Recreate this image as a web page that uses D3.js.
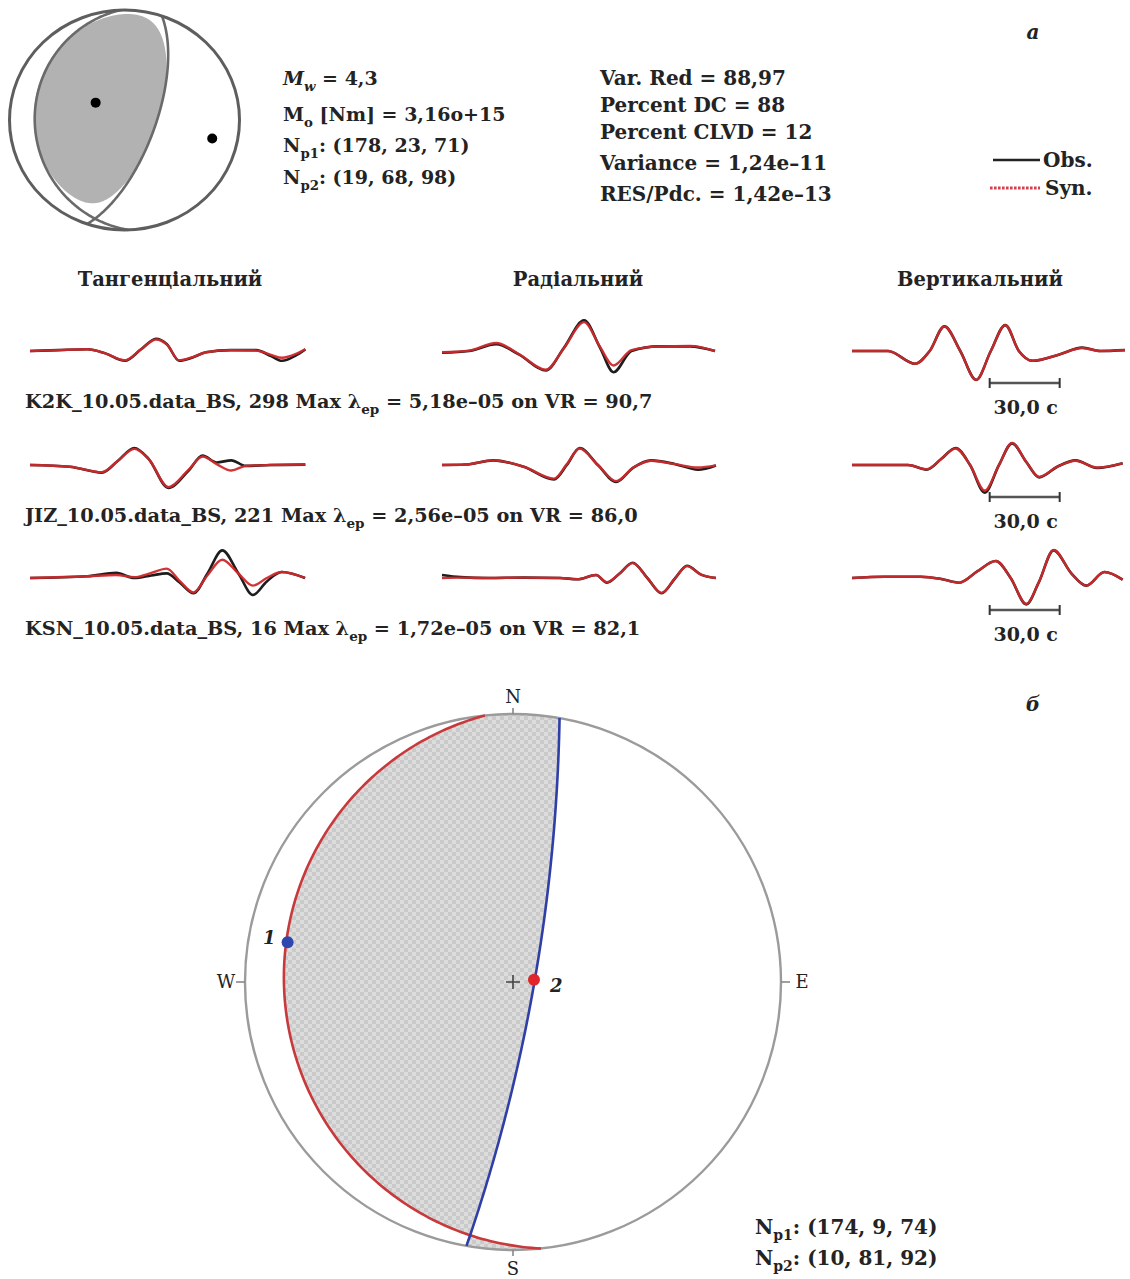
<!DOCTYPE html>
<html>
<head>
<meta charset="utf-8">
<script src="https://cdn.jsdelivr.net/npm/d3@7"></script>
<style>
  body { margin: 0; background: #fff; }
  svg text { font-family: "DejaVu Serif", serif; fill: #232323; }
</style>
</head>
<body>
<svg id="fig" width="1130" height="1279"></svg>
<script>
// ---------------- data ----------------
// nodal planes: [strike, dip, rake]
const planesA = [[178, 23, 71], [19, 68, 98]];
const planesB = [[174, 9, 74], [10, 81, 92]];
const percentDC = 88;
const percentCLVD = 12;
const magnitude = "4,3";
const momentText = "3,16o+15";
const varianceReduction = "88,97";
const varianceText = "1,24e–11";
const resPdcText = "1,42e–13";

const components = ["Тангенціальний", "Радіальний", "Вертикальний"];
const stations = ["K2K_10.05.data_BS", "JIZ_10.05.data_BS", "KSN_10.05.data_BS"];
const stationAzimuth = [298, 221, 16];
const stationMaxAmp = ["5,18e–05", "2,56e–05", "1,72e–05"];
const stationVR = ["90,7", "86,0", "82,1"];
const scaleBarSeconds = 30;
const scaleBarLabel = "30,0 c";

// waveform key points: [time s, observed, synthetic]
const k2kT = [[0,0,0],[12,0.1,0.1],[24.6,0.2,0.2],[32,-0.25,-0.25],[40.7,-1.15,-1.1],[47.6,0.2,0.2],[54,1.45,1.35],[58.7,0.8,0.75],[63.9,-1.15,-1.1],[69.4,-0.8,-0.75],[75.4,-0.15,-0.15],[86,0.1,0.1],[96.9,0.1,0.05],[103.3,-0.6,-0.45],[108,-1.15,-0.8],[114,-0.5,-0.35],[118,0.2,0.2]];
const k2kR = [[0,-0.2,-0.15],[11.6,0,0.05],[23.2,0.8,0.95],[32.9,-0.4,-0.35],[44.5,-2.3,-2.2],[52.2,0.35,0.3],[60.9,3.6,3.4],[67.7,0.4,0.5],[73.5,-2.5,-1.7],[81.2,0,0.1],[92.8,0.55,0.55],[106.3,0.55,0.6],[117,0,0]];
const k2kZ = [[0,0,0],[15.5,0,0],[27,-1.5,-1.5],[33.3,0,0],[39.6,2.9,2.9],[46.4,0,0],[53.2,-3.4,-3.4],[59.5,0,0],[65.7,3.05,3.05],[71.5,0,0],[77.3,-1.15,-1.15],[88.9,-0.4,-0.4],[98.6,0.4,0.35],[106.3,0,0],[117,0.1,0.1]];
const jizT = [[0,0,0],[17,-0.2,-0.2],[30.8,-0.9,-0.85],[37.7,0.5,0.5],[44.7,2.0,1.9],[50.9,0.7,0.7],[59.3,-2.7,-2.6],[67.8,-0.7,-0.6],[74,1.1,1.0],[80,0.3,0.1],[86.3,0.55,-0.65],[92.5,-0.1,-0.1],[103,0,0],[118,0.05,0.05]];
const jizR = [[0,0,0],[10,0.05,0.05],[22,0.55,0.55],[35,-0.2,-0.2],[48,-1.7,-1.6],[53.5,0,0.1],[59,2.0,1.95],[66.8,0,0],[74.6,-2.0,-1.9],[82,-0.3,-0.3],[89.6,0.55,0.5],[100,0.1,0.1],[109.7,-0.55,-0.3],[117.4,-0.05,-0.05]];
const jizZ = [[0,0,0],[24,0,0],[32,-0.55,-0.5],[38.2,0.7,0.7],[44.4,2.0,1.95],[50.6,0,0],[56.9,-3.25,-3.0],[63,0,0],[68.6,2.55,2.6],[74.7,0.35,0.35],[80.2,-1.45,-1.4],[88,-0.2,-0.2],[95.8,0.55,0.5],[105,-0.35,-0.3],[116,0.2,0.2]];
const ksnT = [[0,0,0],[24.7,0.2,0.2],[37,0.6,0.35],[44.7,0,0.1],[52,0.3,0.6],[58.6,0.55,1.1],[64,-0.5,-0.3],[70.1,-1.8,-1.7],[76,0.5,0.3],[82.4,3.25,2.15],[89.4,0.5,0.5],[95.5,-2.0,-0.9],[101.5,-0.4,0.0],[107.9,0.7,0.7],[117.9,0,0]];
const ksnR = [[0,0.35,0],[8,0.1,0.05],[20,0,0],[35,0.05,0.05],[50.6,0,0],[58,-0.15,-0.15],[66,0.35,0.35],[70.7,-0.55,-0.5],[76,0.5,0.5],[81.7,1.8,1.75],[88,0,0],[94.1,-1.8,-1.75],[100,0,0],[105,1.45,1.4],[111,0.4,0.4],[117.4,0,0]];
const ksnZ = [[0,0,0],[14,0.15,0.15],[29.5,0.15,0.15],[38,-0.1,-0.1],[45.9,-0.55,-0.55],[53.8,0.8,0.8],[61.6,2.0,2.0],[68,0,0],[74.7,-3.1,-3.05],[80,-0.55,-0.55],[86.4,3.25,3.3],[94,0.55,0.55],[100.4,-0.9,-0.9],[108.2,0.7,0.7],[116,-0.2,-0.2]];
const traces = [[k2kT, k2kR, k2kZ], [jizT, jizR, jizZ], [ksnT, ksnR, ksnZ]];

// ---------------- focal mechanism geometry ----------------
const deg = Math.PI / 180;
const dot = (a, b) => a[0]*b[0] + a[1]*b[1] + a[2]*b[2];
const cross = (a, b) => [a[1]*b[2]-a[2]*b[1], a[2]*b[0]-a[0]*b[2], a[0]*b[1]-a[1]*b[0]];
const unit = a => { const m = Math.hypot(a[0], a[1], a[2]); return a.map(c => c / m); };

// fault normal and slip vectors in (North, East, Down)
function planeVectors([strike, dip, rake]) {
  const f = strike*deg, d = dip*deg, l = rake*deg;
  const n = [-Math.sin(d)*Math.sin(f), Math.sin(d)*Math.cos(f), -Math.cos(d)];
  const s = [Math.cos(l)*Math.cos(f) + Math.sin(l)*Math.cos(d)*Math.sin(f),
             Math.cos(l)*Math.sin(f) - Math.sin(l)*Math.cos(d)*Math.cos(f),
             -Math.sin(l)*Math.sin(d)];
  return { n, s };
}

const projections = {
  equalArea: { fwd: th => Math.SQRT2*Math.sin(th/2), inv: r => 2*Math.asin(Math.min(r, 1)/Math.SQRT2) },
  stereographic: { fwd: th => Math.tan(th/2), inv: r => 2*Math.atan(Math.min(r, 1)) }
};

// lower-hemisphere projection to the unit disk: [east, north]
function toDisk(v, proj) {
  let [n, e, d] = unit(v);
  if (d < -1e-9) { n = -n; e = -e; d = -d; }
  const th = Math.acos(Math.min(1, Math.max(-1, d)));
  const r = proj.fwd(th), az = Math.atan2(e, n);
  return [r*Math.sin(az), r*Math.cos(az)];
}
function fromDisk(u, v, proj) {
  const r = Math.hypot(u, v), th = proj.inv(r), az = Math.atan2(u, v);
  return [Math.sin(th)*Math.cos(az), Math.sin(th)*Math.sin(az), Math.cos(th)];
}
function greatCircle([strike, dip], proj) {
  const f = strike*deg, d = dip*deg;
  const s = [Math.cos(f), Math.sin(f), 0];
  const dd = [-Math.cos(d)*Math.sin(f), Math.cos(d)*Math.cos(f), Math.sin(d)];
  return d3.range(0, 181).map(a => {
    const al = a*deg;
    return toDisk([0, 1, 2].map(i => Math.cos(al)*s[i] + Math.sin(al)*dd[i]), proj);
  });
}
function dcAmplitude(plane) {
  const { n, s } = planeVectors(plane);
  return g => 2*dot(g, n)*dot(g, s);
}
function mtAmplitude(plane, clvd) {
  const { n, s } = planeVectors(plane);
  const T = unit(n.map((c, i) => c + s[i])), P = unit(n.map((c, i) => c - s[i])), B = cross(n, s);
  const eps = clvd / 200;
  return g => { const t = dot(g, T), p = dot(g, P), b = dot(g, B); return t*t - eps*b*b - (1 - eps)*p*p; };
}
// compressional area as a contour of the radiation amplitude
function compressionPath(amp, proj, sx, sy, size) {
  const L = 1.03, du = 2*L/(size - 1);
  const vals = new Float64Array(size*size);
  for (let j = 0; j < size; j++) for (let i = 0; i < size; i++) {
    vals[j*size + i] = amp(fromDisk(-L + i*du, L - j*du, proj));
  }
  const c = d3.contours().size([size, size]).thresholds([0])(vals)[0];
  const path = d3.geoPath(d3.geoTransform({
    point(x, y) { this.stream.point(sx(-L + (x - 0.5)*du), sy(L - (y - 0.5)*du)); }
  }));
  return path(c);
}

const svg = d3.select("#fig");
const defs = svg.append("defs");

// rich text helper (italic / subscript parts)
function richText(g, x, y, parts, attrs = {}) {
  const t = g.append("text").attr("x", x).attr("y", y);
  Object.entries(attrs).forEach(([k, v]) => t.attr(k, v));
  let shifted = false;
  parts.forEach(p => {
    const ts = t.append("tspan").text(p.t);
    if (p.i) ts.attr("font-style", "italic");
    if (p.sub) { ts.attr("font-size", "0.7em").attr("dy", 5.5); shifted = true; }
    else if (shifted) { ts.attr("dy", -5.5); shifted = false; }
  });
  return t;
}

// ---------------- panel a: beach ball ----------------
{
  const cx = 124.5, cy = 120, rx = 115, ry = 110;
  const proj = projections.equalArea;
  const sx = d3.scaleLinear().domain([-1, 1]).range([cx - rx, cx + rx]);
  const sy = d3.scaleLinear().domain([-1, 1]).range([cy + ry, cy - ry]);
  const g = svg.append("g");
  defs.append("clipPath").attr("id", "clipA").append("ellipse")
    .attr("cx", cx).attr("cy", cy).attr("rx", rx).attr("ry", ry);
  g.append("path").attr("clip-path", "url(#clipA)")
    .attr("d", compressionPath(mtAmplitude(planesA[0], percentCLVD), proj, sx, sy, 260))
    .attr("fill", "#b2b2b2");
  const line = d3.line().x(d => sx(d[0])).y(d => sy(d[1])).curve(d3.curveLinear);
  planesA.forEach(p => g.append("path").attr("d", line(greatCircle(p, proj)))
    .attr("fill", "none").attr("stroke", "#6a6a6a").attr("stroke-width", 2.6));
  g.append("ellipse").attr("cx", cx).attr("cy", cy).attr("rx", rx).attr("ry", ry)
    .attr("fill", "none").attr("stroke", "#5e5e5e").attr("stroke-width", 3);
  // T and P axes
  const { n, s } = planeVectors(planesA[0]);
  [n.map((c, i) => c + s[i]), n.map((c, i) => c - s[i])].forEach(v => {
    const q = toDisk(v, proj);
    g.append("circle").attr("cx", sx(q[0])).attr("cy", sy(q[1])).attr("r", 5).attr("fill", "#000");
  });
}

// ---------------- summary text ----------------
{
  const g = svg.append("g").attr("font-weight", "bold");
  const left = [
    [{ t: "M", i: 1 }, { t: "w", i: 1, sub: 1 }, { t: " = " + magnitude }],
    [{ t: "M" }, { t: "o", sub: 1 }, { t: " [Nm] = " + momentText }],
    [{ t: "N" }, { t: "p1", sub: 1 }, { t: ": (" + planesA[0].join(", ") + ")" }],
    [{ t: "N" }, { t: "p2", sub: 1 }, { t: ": (" + planesA[1].join(", ") + ")" }]
  ];
  const leftY = [85, 121, 152, 184];
  left.forEach((parts, k) => richText(g, 283, leftY[k], parts, { "font-size": 19 }));
  const right = ["Var. Red = " + varianceReduction, "Percent DC = " + percentDC,
    "Percent CLVD = " + percentCLVD, "Variance = " + varianceText, "RES/Pdc. = " + resPdcText];
  const rightY = [85, 112, 139, 170, 201];
  right.forEach((s, k) => g.append("text").attr("x", 600).attr("y", rightY[k])
    .attr("font-size", 20).text(s));

  // legend
  g.append("line").attr("x1", 993).attr("x2", 1040).attr("y1", 160).attr("y2", 160)
    .attr("stroke", "#222").attr("stroke-width", 2.6);
  g.append("line").attr("x1", 990).attr("x2", 1040).attr("y1", 188).attr("y2", 188)
    .attr("stroke", "#d8404e").attr("stroke-width", 3).attr("stroke-dasharray", "2.6,1.4");
  g.append("text").attr("x", 1043).attr("y", 167).attr("font-size", 20).text("Obs.");
  g.append("text").attr("x", 1045).attr("y", 195).attr("font-size", 20).text("Syn.");
  svg.append("text").attr("x", 1033).attr("y", 39).attr("font-size", 20)
    .attr("font-style", "italic").attr("font-weight", "bold").attr("text-anchor", "middle").text("a");
}

// ---------------- waveforms ----------------
{
  const colX = [30, 442, 852];
  const headerX = [170, 578, 980];
  const rowBase = [351, 465, 578];
  const pxPerSecond = 70 / 30, pxPerUnit = 8.5;
  const g = svg.append("g");
  components.forEach((c, k) => g.append("text").attr("x", headerX[k]).attr("y", 286)
    .attr("text-anchor", "middle").attr("font-size", 19.5).attr("font-weight", "bold").text(c));

  traces.forEach((row, r) => {
    row.forEach((tr, c) => {
      const x = d3.scaleLinear().domain([0, 1]).range([colX[c], colX[c] + pxPerSecond]);
      const y = d3.scaleLinear().domain([0, 1]).range([rowBase[r], rowBase[r] - pxPerUnit]);
      const obs = d3.line().x(d => x(d[0])).y(d => y(d[1])).curve(d3.curveMonotoneX);
      const syn = d3.line().x(d => x(d[0])).y(d => y(d[2])).curve(d3.curveMonotoneX);
      g.append("path").attr("d", obs(tr)).attr("fill", "none").attr("stroke", "#1d1d1d")
        .attr("stroke-width", 2.6).attr("stroke-linejoin", "round");
      g.append("path").attr("d", syn(tr)).attr("fill", "none").attr("stroke", "#cc2a2c")
        .attr("stroke-width", 2.4).attr("stroke-linejoin", "round").attr("opacity", 0.95);
      if (c === 2) {
        const x0 = x(59), x1 = x(59 + scaleBarSeconds), yb = rowBase[r] + 32;
        g.append("line").attr("x1", x0).attr("x2", x1).attr("y1", yb).attr("y2", yb)
          .attr("stroke", "#555").attr("stroke-width", 2.4);
        [x0, x1].forEach(xx => g.append("line").attr("x1", xx).attr("x2", xx)
          .attr("y1", yb - 5).attr("y2", yb + 5).attr("stroke", "#333").attr("stroke-width", 2));
        g.append("text").attr("x", (x0 + x1) / 2 + 1).attr("y", rowBase[r] + 63)
          .attr("text-anchor", "middle").attr("font-size", 19).attr("font-weight", "bold").text(scaleBarLabel);
      }
    });
    richText(g, 25, rowBase[r] + 57, [
      { t: `${stations[r]}, ${stationAzimuth[r]} Max λ` }, { t: "ep", sub: 1 },
      { t: ` = ${stationMaxAmp[r]} on VR = ${stationVR[r]}` }
    ], { "font-size": 19.3, "font-weight": "bold" });
  });
}

// ---------------- panel б: stereonet ----------------
{
  const cx = 513, cy = 982, R = 268;
  const proj = projections.stereographic;
  const sx = d3.scaleLinear().domain([-1, 1]).range([cx - R, cx + R]);
  const sy = d3.scaleLinear().domain([-1, 1]).range([cy + R, cy - R]);
  const g = svg.append("g");
  const pat = defs.append("pattern").attr("id", "checker").attr("patternUnits", "userSpaceOnUse")
    .attr("width", 8).attr("height", 8);
  pat.append("rect").attr("width", 8).attr("height", 8).attr("fill", "#dcdcdc");
  pat.append("rect").attr("width", 4).attr("height", 4).attr("fill", "#cacaca");
  pat.append("rect").attr("x", 4).attr("y", 4).attr("width", 4).attr("height", 4).attr("fill", "#cacaca");
  defs.append("clipPath").attr("id", "clipB").append("circle").attr("cx", cx).attr("cy", cy).attr("r", R);
  g.append("path").attr("clip-path", "url(#clipB)")
    .attr("d", compressionPath(dcAmplitude(planesB[0]), proj, sx, sy, 400))
    .attr("fill", "url(#checker)");
  g.append("circle").attr("cx", cx).attr("cy", cy).attr("r", R)
    .attr("fill", "none").attr("stroke", "#9b9b9b").attr("stroke-width", 2.4);
  // compass ticks and labels
  const ticks = [["N", 0, -1, 0, -R - 11], ["E", 1, 0, R + 21, 6], ["S", 0, 1, 0, R + 25], ["W", -1, 0, -R - 19, 6]];
  ticks.forEach(([lab, dx, dy, lx, ly]) => {
    g.append("line").attr("x1", cx + dx*R).attr("y1", cy + dy*R)
      .attr("x2", cx + dx*(R + 9)).attr("y2", cy + dy*(R + 6))
      .attr("stroke", "#888").attr("stroke-width", 1.6);
    g.append("text").attr("x", cx + lx).attr("y", cy + ly)
      .attr("text-anchor", "middle").attr("font-size", 18).text(lab);
  });
  const line = d3.line().x(d => sx(d[0])).y(d => sy(d[1]));
  const colors = ["#c8393c", "#2f3fa6"];
  planesB.forEach((p, k) => g.append("path").attr("d", line(greatCircle(p, proj)))
    .attr("fill", "none").attr("stroke", colors[k]).attr("stroke-width", 2.6));
  // centre cross
  g.append("path").attr("d", `M${cx - 7},${cy}h14M${cx},${cy - 7}v14`)
    .attr("stroke", "#444").attr("stroke-width", 1.6);
  // slip vectors (poles of the conjugate planes)
  const poleColors = ["#2f45b0", "#e0242a"];
  const labels = ["1", "2"];
  [planesB[1], planesB[0]].forEach((p, k) => {
    const q = toDisk(planeVectors(p).n, proj);
    const px = sx(q[0]), py = sy(q[1]);
    g.append("circle").attr("cx", px).attr("cy", py).attr("r", 6).attr("fill", poleColors[k]);
    g.append("text").attr("x", k === 0 ? px - 12 : px + 16).attr("y", py + (k === 0 ? 2 : 12))
      .attr("text-anchor", k === 0 ? "end" : "start").attr("font-size", 18)
      .attr("font-style", "italic").attr("font-weight", "bold").text(labels[k]);
  });
  svg.append("text").attr("x", 1033).attr("y", 711).attr("font-size", 20)
    .attr("font-style", "italic").attr("font-weight", "bold").attr("text-anchor", "middle").text("б");
  const tg = svg.append("g").attr("font-weight", "bold");
  planesB.forEach((p, k) => richText(tg, 755, 1234 + k*31,
    [{ t: "N" }, { t: "p" + (k + 1), sub: 1 }, { t: ": (" + p.join(", ") + ")" }], { "font-size": 20 }));
}
</script>
</body>
</html>
